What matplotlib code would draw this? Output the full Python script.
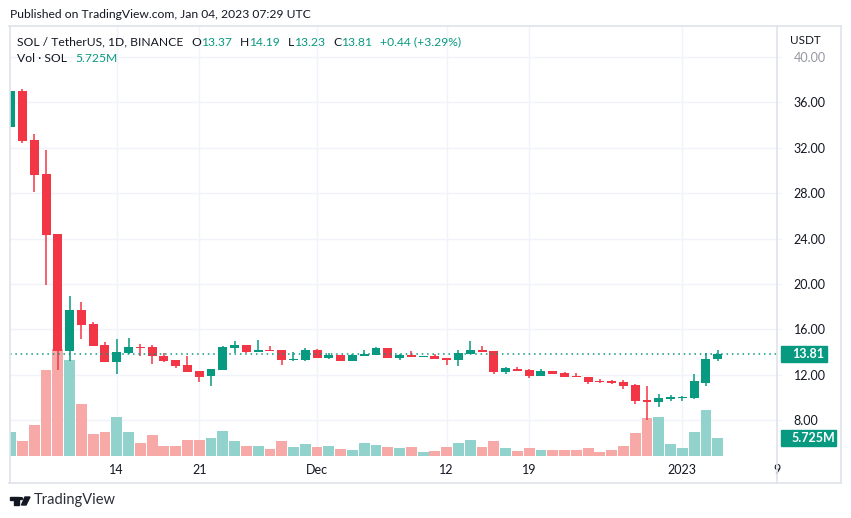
import numpy as np
import matplotlib
matplotlib.use("Agg")
import matplotlib.pyplot as plt
from matplotlib.patches import Rectangle, Polygon, Circle
from matplotlib.lines import Line2D

plt.rcParams['font.family'] = ['Lato', 'DejaVu Sans']

# daily SOL/USDT candles, Nov 5 2022 .. Jan 4 2023 (index 0 = Nov 5)
opens = [33.8, 37.0, 32.7, 29.7, 24.4, 14.06, 17.73, 16.5, 14.65, 13.15,
         13.94, 14.4, 14.4, 13.68, 13.33, 12.89, 12.36, 11.85, 12.42, 14.34,
         14.63, 13.98, 14.16, 14.16, 13.28, 13.28, 14.16, 13.48, 13.72, 13.2,
         13.66, 13.75, 14.34, 13.48, 13.75, 13.57, 13.62, 13.45, 13.28, 13.84,
         14.16, 14.07, 12.27, 12.49, 12.4, 11.9, 12.32, 12.15, 11.9, 11.82,
         11.47, 11.47, 11.38, 11.08, 9.8, 9.6, 9.85, 9.97, 9.97, 11.29, 13.37]
highs = [37.0, 37.2, 33.2, 31.8, 24.4, 18.96, 18.37, 16.6, 14.85, 15.1,
         15.2, 14.74, 14.57, 13.94, 13.33, 13.68, 12.36, 12.53, 14.5, 14.99,
         14.63, 15.04, 14.5, 14.16, 13.98, 14.37, 14.22, 13.94, 13.72, 13.84,
         14.16, 14.43, 14.34, 13.84, 14.07, 13.66, 13.84, 13.45, 14.16, 14.99,
         14.5, 14.07, 12.66, 12.66, 12.49, 12.49, 12.32, 12.27, 12.15, 11.82,
         11.62, 11.5, 11.5, 11.2, 10.97, 10.33, 10.17, 10.08, 12.1, 13.9, 14.19]
lows = [33.8, 32.46, 28.1, 19.87, 12.45, 13.24, 15.18, 14.56, 13.1, 12.1,
        13.85, 13.68, 12.98, 13.1, 12.6, 12.2, 11.33, 11.03, 12.42, 13.94,
        13.94, 13.98, 14.07, 12.84, 13.2, 13.2, 13.48, 13.4, 13.2, 13.2,
        13.66, 13.75, 13.48, 13.28, 13.57, 13.57, 13.37, 12.84, 12.75, 13.84,
        13.98, 12.08, 12.05, 12.35, 11.73, 11.9, 12.1, 11.78, 11.75, 11.14,
        11.3, 11.15, 10.76, 9.43, 8.02, 9.12, 9.7, 9.66, 9.88, 11.03, 13.23]
closes = [37.0, 32.6, 29.6, 24.33, 14.06, 17.73, 16.41, 14.56, 13.15, 14.03,
          14.4, 14.33, 13.62, 13.24, 12.8, 12.27, 11.83, 12.53, 14.43, 14.63,
          13.98, 14.16, 14.07, 13.28, 13.37, 14.16, 13.48, 13.72, 13.2, 13.75,
          13.84, 14.34, 13.48, 13.75, 13.57, 13.66, 13.37, 13.28, 13.9, 14.16,
          13.98, 12.27, 12.58, 12.35, 11.9, 12.32, 12.1, 11.82, 11.75, 11.38,
          11.36, 11.27, 11.03, 9.7, 9.6, 9.97, 10.06, 10.06, 11.4, 13.37, 13.81]
volumes = [7.6, 4.8, 9.9, 27.3, 34.0, 30.5, 16.5, 7.0, 7.6, 12.4,
           7.6, 4.1, 6.7, 3.2, 3.2, 5.1, 5.1, 5.7, 8.0, 4.8,
           3.2, 3.2, 2.2, 4.8, 2.9, 3.8, 2.9, 3.2, 2.2, 1.9,
           4.1, 3.5, 2.9, 2.5, 2.9, 1.3, 1.6, 2.9, 4.1, 5.1,
           2.9, 4.8, 2.5, 1.6, 2.5, 1.9, 1.9, 1.9, 1.9, 2.5,
           1.3, 1.9, 3.2, 7.3, 12.1, 12.4, 3.8, 2.5, 7.6, 14.6, 5.725]  # millions

tick_days = [9, 16, 26, 37, 44, 57, 65]
tick_labels = ['14', '21', 'Dec', '12', '19', '2023', '9']
price_ticks = [8, 12, 16, 20, 24, 28, 32, 36, 40]
last_close = 13.81
last_vol = 5.725

UP, DOWN = '#089981', '#F23645'
UP_V, DOWN_V = '#92D2CC', '#F7A9A8'
GRID = '#F0F3FA'
TXT = '#131722'
BORDER = '#E0E3EB'
FS = 8.7

W, H = 851, 518
fig = plt.figure(figsize=(W / 100, H / 100), dpi=100)
fig.patch.set_facecolor('white')


def fx(px):
    return px / W


def fy(py):
    return 1 - py / H


L, R, T, B = 10, 777, 26, 456
rect = [fx(L), fy(B), fx(R) - fx(L), fy(T) - fy(B)]

ax = fig.add_axes(rect)
vax = fig.add_axes(rect, sharex=ax)
cax = fig.add_axes(rect, sharex=ax, sharey=ax)
for a in (vax, cax):
    a.patch.set_visible(False)
    a.axis('off')

x = np.arange(len(opens))
o, h, l, c = map(np.array, (opens, highs, lows, closes))
up = c >= o

ax.set_xlim(-0.057, 65.03)
ax.set_ylim(4.83, 42.73)
vax.set_ylim(0, 430 * 0.318)

# grid + axes
ax.set_xticks(tick_days)
ax.set_xticklabels(tick_labels)
ax.set_yticks(price_ticks)
ax.set_yticklabels([f'{p:.2f}' for p in price_ticks])
ax.yaxis.tick_right()
ax.grid(True, color=GRID, lw=1)
ax.tick_params(axis='x', length=0, pad=6, labelsize=FS + 0.3, labelcolor=TXT)
ax.tick_params(axis='y', length=3, color=GRID, pad=9, labelsize=FS + 0.3, labelcolor=TXT)
for lab in ax.get_xticklabels() + ax.get_yticklabels():
    lab.set_clip_on(False)
ax.get_yticklabels()[-1].set_color('#9598A1')
for s in ax.spines.values():
    s.set_visible(False)

# volume
vax.bar(x, volumes, width=0.92, color=np.where(up, UP_V, DOWN_V), linewidth=0)

# candles
col = np.where(up, UP, DOWN)
cax.vlines(x, l, h, colors=col, lw=1.1)
body = np.maximum(np.abs(c - o), 0.07)
cax.bar(x, body, bottom=np.minimum(o, c), width=0.76, color=col, linewidth=0)
cax.axhline(last_close, color=UP, lw=1.1, ls=(0, (1, 2.5)))

# last price / volume badges on the price scale
bx0 = (781 - L) / (R - L)
cax.add_patch(Rectangle((bx0, last_close - 8 / 11.34), 46 / (R - L), 16 / 11.34,
                        transform=cax.get_yaxis_transform(), color=UP, clip_on=False))
cax.text((792 - L) / (R - L), last_close, f'{last_close:.2f}', transform=cax.get_yaxis_transform(),
         color='white', fontsize=FS + 0.3, fontweight='bold', va='center', ha='left', clip_on=False)
vax.add_patch(Rectangle((bx0, last_vol - 8 * 0.318), 55 / (R - L), 16 * 0.318,
                        transform=vax.get_yaxis_transform(), color=UP, clip_on=False))
vax.text((791 - L) / (R - L), last_vol, f'{last_vol:.3f}M', transform=vax.get_yaxis_transform(),
         color='white', fontsize=FS + 0.3, fontweight='bold', va='center', ha='left', clip_on=False)

# frame
for (x0, y0, x1, y1) in [(9, 26, 841, 26), (9, 483, 841, 483), (9.5, 26, 9.5, 483),
                         (840.5, 26, 840.5, 483), (776.5, 26, 776.5, 483)]:
    fig.add_artist(Line2D([fx(x0), fx(x1)], [fy(y0), fy(y1)], color=BORDER, lw=1.2))

# header texts
fig.text(fx(10), fy(15), 'Published on TradingView.com, Jan 04, 2023 07:29 UTC',
         fontsize=FS, color=TXT, va='center')

renderer = fig.canvas.get_renderer()


def legend_row(py, pieces, start=17):
    # lay out text pieces left to right; each piece is (text, colour, gap before it in px)
    cur = start
    for s, cc, gap in pieces:
        cur += gap
        t = fig.text(fx(cur), fy(py), s, fontsize=FS, color=cc, va='center')
        cur += t.get_window_extent(renderer).width


legend_row(42, [('SOL / TetherUS, 1D, BINANCE', TXT, 0),
                ('O', TXT, 8), ('13.37', UP, 0), ('H', TXT, 8), ('14.19', UP, 0),
                ('L', TXT, 8), ('13.23', UP, 0), ('C', TXT, 8), ('13.81', UP, 0),
                ('+0.44 (+3.29%)', UP, 8)])
legend_row(59, [('Vol · SOL', TXT, 0), ('5.725M', UP, 8)])
fig.text(fx(790), fy(41), 'USDT', fontsize=FS - 0.3, color=TXT, va='center')

# TradingView logo
fig.add_artist(Polygon([(fx(10), fy(497)), (fx(18.5), fy(497)), (fx(18.5), fy(505)),
                        (fx(14.5), fy(505)), (fx(14.5), fy(500)), (fx(10), fy(500))],
                       closed=True, color='#131722', transform=fig.transFigure))
fig.add_artist(Circle((fx(21), fy(498.6)), 1.6 / W, color='#131722', transform=fig.transFigure))
fig.add_artist(Polygon([(fx(25), fy(497)), (fx(30), fy(497)), (fx(26), fy(505)), (fx(21.5), fy(505))],
                       closed=True, color='#131722', transform=fig.transFigure))
fig.text(fx(34), fy(500), 'TradingView', fontsize=10.5, color='#2A2E39', va='center')

fig.savefig('out.png', dpi=100)
